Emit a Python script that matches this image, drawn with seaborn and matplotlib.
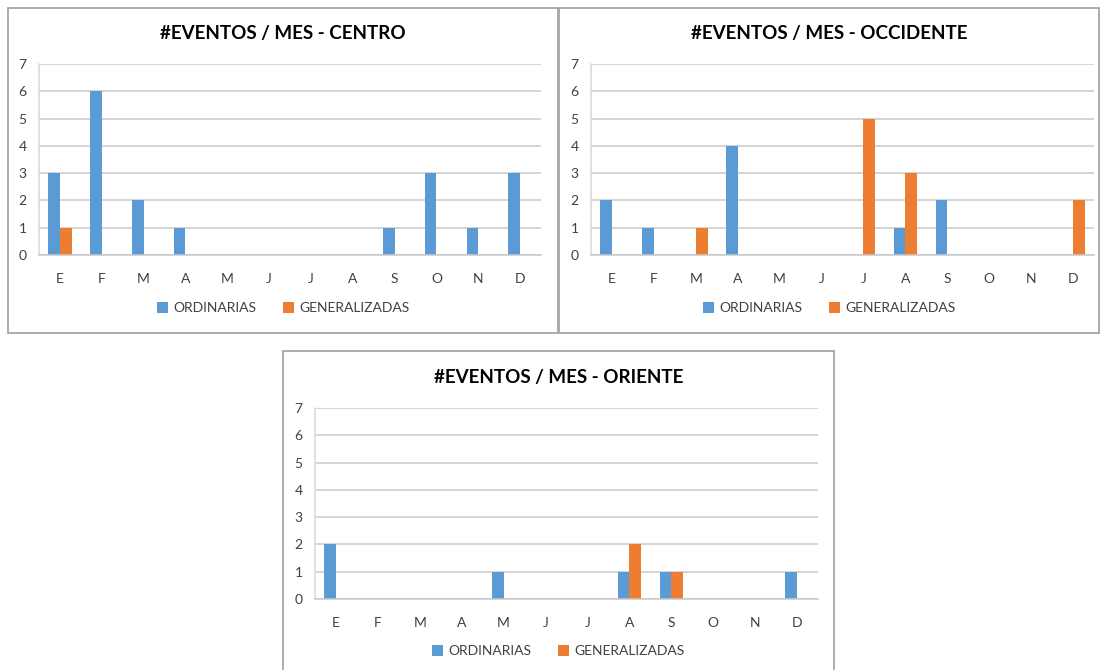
import numpy as np
import pandas as pd
import matplotlib
matplotlib.use("Agg")
import matplotlib.pyplot as plt
from matplotlib.patches import Patch, Rectangle
import seaborn as sns

# Month initials shown on the category axis
meses = ["E", "F", "M", "A", "M", "J", "J", "A", "S", "O", "N", "D"]
tipos = ["ORDINARIAS", "GENERALIZADAS"]

# Monthly event counts per region
centro_ord = [3, 6, 2, 1, 0, 0, 0, 0, 1, 3, 1, 3]
centro_gen = [1, 0, 0, 0, 0, 0, 0, 0, 0, 0, 0, 0]
occidente_ord = [2, 1, 0, 4, 0, 0, 0, 1, 2, 0, 0, 0]
occidente_gen = [0, 0, 1, 0, 0, 0, 5, 3, 0, 0, 0, 2]
oriente_ord = [2, 0, 0, 0, 1, 0, 0, 1, 1, 0, 0, 1]
oriente_gen = [0, 0, 0, 0, 0, 0, 0, 2, 1, 0, 0, 0]

titulos = ["#EVENTOS / MES - CENTRO", "#EVENTOS / MES - OCCIDENTE", "#EVENTOS / MES - ORIENTE"]

AZUL = "#5B9BD5"
NARANJA = "#ED7D31"
GRIS_GRID = "#C9C9C9"
GRIS_EJE = "#D9D9D9"
GRIS_TEXTO = "#404040"
GRIS_BORDE = "#A6A6A6"

sns.set_theme(style="white")
plt.rcParams["font.family"] = ["Lato", "DejaVu Sans"]

W, H = 1100, 670
fig = plt.figure(figsize=(W / 100, H / 100), dpi=100)
fig.patch.set_facecolor("white")


def fx(x):
    return x / W


def fy(y):
    return 1 - y / H


def px_rect(l, t, r, b):
    return [l / W, 1 - b / H, (r - l) / W, (b - t) / H]


# (panel box, plot area, title y, legend y) in pixel coordinates
paneles = [
    ((8, 8, 558, 333), (39, 64, 541, 255), 34, 308),
    ((559, 8, 1099, 333), (591, 64, 1094, 255), 34, 308),
    ((283, 351, 834, 672), (315, 408, 818, 599), 377, 651),
]
datos = [
    (centro_ord, centro_gen),
    (occidente_ord, occidente_gen),
    (oriente_ord, oriente_gen),
]

for (caja, area, ty, ly), (ords, gens), titulo in zip(paneles, datos, titulos):
    bl, bt, br, bb = caja
    fig.patches.append(
        Rectangle((fx(bl), fy(bb)), (br - bl) / W, (bb - bt) / H,
                  transform=fig.transFigure, fill=False,
                  edgecolor=GRIS_BORDE, linewidth=1.3, zorder=0)
    )

    df = pd.DataFrame({
        "mes": list(range(12)) * 2,
        "tipo": [tipos[0]] * 12 + [tipos[1]] * 12,
        "n": list(ords) + list(gens),
    })

    ax = fig.add_axes(px_rect(*area))
    sns.barplot(data=df, x="mes", y="n", hue="tipo", order=list(range(12)),
                hue_order=tipos, palette=[AZUL, NARANJA], width=0.56,
                saturation=1, errorbar=None, linewidth=0, legend=False, ax=ax)

    ax.set_xlim(-0.5, 11.5)
    ax.set_ylim(0, 7)
    ax.set_yticks(range(8))
    ax.set_yticklabels([str(v) for v in range(8)])
    ax.set_xticks(range(12))
    ax.set_xticklabels(meses)
    ax.set_xlabel("")
    ax.set_ylabel("")
    ax.tick_params(axis="both", length=0, labelsize=10, labelcolor=GRIS_TEXTO)
    ax.tick_params(axis="y", pad=9)
    ax.tick_params(axis="x", pad=13)
    ax.yaxis.grid(True, color=GRIS_GRID, linewidth=1.1)
    ax.set_axisbelow(True)
    for lado in ("top", "right"):
        ax.spines[lado].set_visible(False)
    ax.spines["left"].set_color(GRIS_EJE)
    ax.spines["bottom"].set_color(GRIS_GRID)
    for lado in ("left", "bottom"):
        ax.spines[lado].set_linewidth(1.1)
    ax.set_facecolor("none")

    fig.text(fx((bl + br) / 2), fy(ty), titulo, ha="center", va="center",
             fontsize=13.5, fontweight="bold", color="#000000")

    handles = [Patch(facecolor=AZUL, edgecolor="none"),
               Patch(facecolor=NARANJA, edgecolor="none")]
    fig.legend(handles, tipos, loc="center",
               bbox_to_anchor=(fx((bl + br) / 2), fy(ly)),
               ncol=2, frameon=False, fontsize=10, labelcolor=GRIS_TEXTO,
               handlelength=0.8, handleheight=0.8, handletextpad=0.4,
               columnspacing=1.9, borderaxespad=0)

fig.savefig("out.png", dpi=100, facecolor="white")
